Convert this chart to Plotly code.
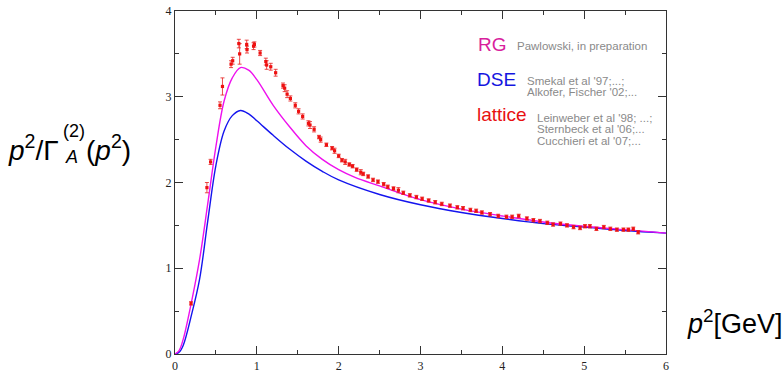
import plotly.graph_objects as go

# RG (magenta) curve samples
rg_x = [0, 0.05, 0.1, 0.2, 0.3, 0.4, 0.5, 0.6, 0.7, 0.8, 0.9, 1.0, 1.2, 1.4, 1.6, 1.8, 2.0, 2.2, 2.5, 3.0, 3.5, 4.0, 4.5, 5.0, 5.5, 6.0]
rg_y = [0, 0.04, 0.17, 0.6, 1.1, 1.75, 2.42, 2.95, 3.22, 3.34, 3.31, 3.2, 2.9, 2.65, 2.43, 2.27, 2.15, 2.06, 1.96, 1.8, 1.69, 1.61, 1.54, 1.49, 1.45, 1.41]

# DSE (blue) curve samples
dse_x = [0, 0.05, 0.1, 0.2, 0.3, 0.4, 0.5, 0.6, 0.7, 0.8, 0.9, 1.0, 1.2, 1.4, 1.6, 1.8, 2.0, 2.5, 3.0, 3.5, 4.0, 4.5, 5.0, 5.5, 6.0]
dse_y = [0, 0.02, 0.1, 0.45, 0.87, 1.55, 2.2, 2.6, 2.78, 2.84, 2.8, 2.72, 2.55, 2.39, 2.25, 2.13, 2.03, 1.86, 1.74, 1.65, 1.58, 1.52, 1.48, 1.44, 1.41]

# lattice data
lat_x = [0.196, 0.39, 0.435, 0.55, 0.58, 0.685, 0.705, 0.78, 0.79, 0.876, 0.88, 0.96, 0.97, 1.04, 1.11, 1.12, 1.17, 1.23,
         1.32, 1.34, 1.37, 1.41, 1.47, 1.51, 1.56, 1.63, 1.65, 1.70, 1.76, 1.78, 1.85, 1.92, 1.95, 2.00, 2.04, 2.08,
         2.13, 2.17, 2.22, 2.27, 2.30, 2.36, 2.42, 2.48, 2.55, 2.60, 2.67, 2.73, 2.79, 2.87, 2.95, 3.02, 3.10, 3.18,
         3.26, 3.36, 3.45, 3.52, 3.61, 3.68, 3.75, 3.85, 3.95, 4.05, 4.12, 4.20, 4.30, 4.38, 4.46, 4.55, 4.62, 4.71,
         4.79, 4.87, 4.95, 5.01, 5.07, 5.15, 5.24, 5.32, 5.40, 5.48, 5.54, 5.60, 5.66]
lat_y = [0.59, 1.94, 2.24, 2.90, 3.12, 3.38, 3.42, 3.62, 3.50, 3.61, 3.55, 3.59, 3.61, 3.51, 3.41, 3.37, 3.35, 3.28,
         3.13, 3.10, 3.03, 2.98, 2.90, 2.83, 2.77, 2.69, 2.67, 2.62, 2.53, 2.50, 2.44, 2.40, 2.37, 2.31, 2.26, 2.24,
         2.21, 2.19, 2.15, 2.12, 2.10, 2.07, 2.03, 2.01, 1.98, 1.95, 1.93, 1.91, 1.88, 1.85, 1.83, 1.81, 1.79, 1.77,
         1.75, 1.73, 1.71, 1.70, 1.68, 1.67, 1.65, 1.63, 1.61, 1.60, 1.60, 1.61, 1.58, 1.56, 1.55, 1.53, 1.51, 1.52,
         1.50, 1.48, 1.47, 1.49, 1.49, 1.46, 1.48, 1.46, 1.45, 1.45, 1.45, 1.46, 1.42]
lat_err = [0.02, 0.06, 0.03, 0.04, 0.10, 0.04, 0.04, 0.05, 0.12, 0.05, 0.04, 0.04, 0.03, 0.03, 0.04, 0.05, 0.04, 0.04,
           0.03, 0.04, 0.04, 0.03, 0.03, 0.03, 0.03, 0.03, 0.04, 0.03, 0.02, 0.03, 0.02, 0.02, 0.03, 0.02, 0.02, 0.03,
           0.02, 0.02, 0.02, 0.03, 0.02, 0.02, 0.02, 0.02, 0.02, 0.02, 0.02, 0.03, 0.02, 0.02, 0.02, 0.02, 0.02, 0.02,
           0.02, 0.02, 0.02, 0.02, 0.02, 0.02, 0.02, 0.02, 0.02, 0.02, 0.02, 0.02, 0.02, 0.02, 0.02, 0.02, 0.02, 0.02,
           0.02, 0.02, 0.02, 0.02, 0.02, 0.02, 0.02, 0.02, 0.02, 0.02, 0.02, 0.02, 0.02]

tick_vals = [0, 1, 2, 3, 4, 5, 6]

W, H = 783, 371
L, R, T, B = 175, 117, 11, 17
PW, PH = W - L - R, H - T - B


def px(x):
    return (x - L) / PW


def py(y):
    return (H - B - y) / PH


fig = go.Figure()
fig.add_trace(go.Scatter(x=dse_x, y=dse_y, mode="lines", line=dict(color="#1414ee", width=1.4, shape="spline"), hoverinfo="skip"))
fig.add_trace(go.Scatter(x=rg_x, y=rg_y, mode="lines", line=dict(color="#ee10ee", width=1.4, shape="spline"), hoverinfo="skip"))
fig.add_trace(go.Scatter(x=lat_x, y=lat_y, mode="markers",
                         marker=dict(symbol="square", size=3.2, color="#ee1111"),
                         error_y=dict(type="data", array=lat_err, color="rgba(230,30,30,0.8)", thickness=1, width=2)))

axis_common = dict(showgrid=False, zeroline=False, showline=True, linecolor="#333333", linewidth=1.2,
                   mirror="allticks", ticks="inside", ticklen=8, tickwidth=1, tickcolor="#333333",
                   tickfont=dict(family="Liberation Serif", size=12, color="#222222"),
                   automargin=False,
                   minor=dict(ticks="inside", ticklen=4, dtick=0.5, tickcolor="#333333", showgrid=False))
fig.update_xaxes(range=[0, 6], tickvals=tick_vals, **axis_common)
fig.update_yaxes(range=[0, 4], tickvals=tick_vals[:5], **axis_common)

ann = []
sans = "Liberation Sans"
gray = "#8a8a8a"
# Legend-like texts
ann.append(dict(x=px(476), y=py(44), text="RG", font=dict(family=sans, size=19, color="#d8209c")))
ann.append(dict(x=px(515), y=py(46), text="Pawlowski, in preparation", font=dict(family=sans, size=11.5, color=gray)))
ann.append(dict(x=px(475), y=py(79), text="DSE", font=dict(family=sans, size=19, color="#1515e0")))
ann.append(dict(x=px(525), y=py(81), text="Smekal et al '97;...;", font=dict(family=sans, size=11.5, color=gray)))
ann.append(dict(x=px(525), y=py(92), text="Alkofer, Fischer '02;...", font=dict(family=sans, size=11.5, color=gray)))
ann.append(dict(x=px(475), y=py(114), text="lattice", font=dict(family=sans, size=19, color="#e81010")))
ann.append(dict(x=px(535), y=py(118), text="Leinweber et al '98; ...;", font=dict(family=sans, size=11.5, color=gray)))
ann.append(dict(x=px(535), y=py(129), text="Sternbeck et al '06;...", font=dict(family=sans, size=11.5, color=gray)))
ann.append(dict(x=px(535), y=py(141), text="Cucchieri et al '07;...", font=dict(family=sans, size=11.5, color=gray)))

# y-axis title pieces
big = dict(family=sans, size=28, color="black")
ann.append(dict(x=px(6), y=py(148), text="<i>p</i><sup>2</sup>/Γ", font=big))
ann.append(dict(x=px(61), y=py(131), text="(2)", font=dict(family=sans, size=18, color="black")))
ann.append(dict(x=px(63), y=py(157), text="<i>A</i>", font=dict(family=sans, size=18, color="black")))
ann.append(dict(x=px(84), y=py(148), text="(<i>p</i><sup>2</sup>)", font=big))
# x-axis title
ann.append(dict(x=px(685), y=py(322), text="<i>p</i><sup>2</sup>[GeV]", font=dict(family=sans, size=27, color="black")))

for a in ann:
    a.update(xref="paper", yref="paper", xanchor="left", yanchor="middle", showarrow=False)

fig.update_layout(width=W, height=H, margin=dict(l=L, r=R, t=T, b=B, pad=0),
                  paper_bgcolor="white", plot_bgcolor="white", showlegend=False,
                  annotations=ann)

fig.write_html("out.html", config={"displayModeBar": False},
               post_script="document.body.style.margin='0';document.body.style.padding='0';")
